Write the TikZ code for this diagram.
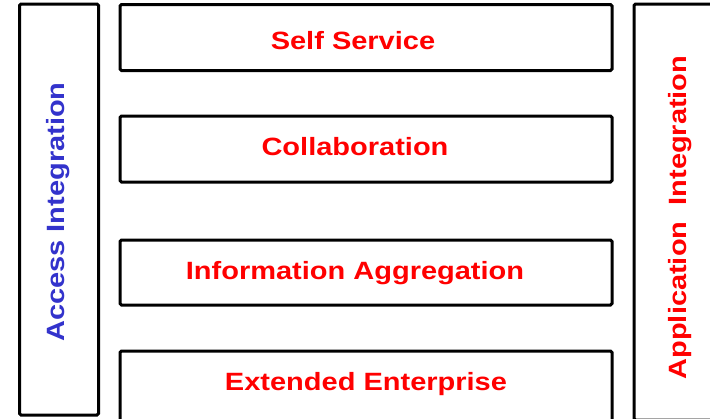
\documentclass[tikz,border=0pt]{standalone}
\usepackage{fontspec}
\usepackage{graphicx}
\setmainfont{Liberation Sans}
\definecolor{lblred}{RGB}{255,0,0}
\definecolor{lblblue}{RGB}{51,51,204}
\begin{document}
\begin{tikzpicture}[x=1pt,y=-1pt,
  box/.style={draw=black,line width=3pt,rounded corners=1.5pt,inner sep=0pt,outer sep=0pt,fill=none},
  lbl/.style={font=\fontsize{25}{30}\selectfont\bfseries,inner sep=0pt,anchor=base},
]
\useasboundingbox[fill=white] (0,0) rectangle (710,418);
% side columns
\node[box,minimum width=79pt,minimum height=411pt] (acc) at (59,209.5) {};
\node[box,minimum width=86pt,minimum height=416pt] (app) at (677,212) {};
% layers
\node[box,minimum width=492pt,minimum height=66pt] (ss) at (366,37.5) {};
\node[box,minimum width=492pt,minimum height=66pt] (co) at (366,149) {};
\node[box,minimum width=492pt,minimum height=65pt] (ia) at (366,272.5) {};
\node[box,minimum width=492pt,minimum height=74pt] (ee) at (366,388) {};
% labels
\node[lbl,text=lblred] (tss) at (353,49) {\scalebox{1.16}[1]{Self Service}};
\node[lbl,text=lblred] (tco) at (355,155) {\scalebox{1.16}[1]{Collaboration}};
\node[lbl,text=lblred] (tia) at (355,279) {\scalebox{1.16}[1]{Information Aggregation}};
\node[lbl,text=lblred] (tee) at (366,390) {\scalebox{1.16}[1]{Extended Enterprise}};
\node[lbl,text=lblblue,rotate=90] (tacc) at (64,212) {\scalebox{1.16}[1]{Access Integration}};
\node[lbl,text=lblred,rotate=90] (tapp) at (686,217.5) {\scalebox{1.16}[1]{Application\ \ Integration}};
\end{tikzpicture}
\end{document}
